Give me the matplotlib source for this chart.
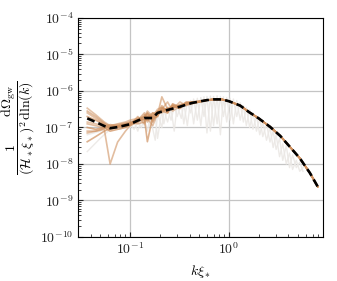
import numpy as np
import matplotlib
matplotlib.use("Agg")
import matplotlib.pyplot as plt
from matplotlib.ticker import FuncFormatter

plt.rcParams["mathtext.fontset"] = "cm"
plt.rcParams["font.family"] = "serif"
plt.rcParams["font.serif"] = ["DejaVu Serif"]

# mean spectrum (log10 values)
k_mean = [0.037, 0.045, 0.055, 0.063, 0.075, 0.09, 0.1, 0.12, 0.14, 0.17, 0.19,
          0.24, 0.32, 0.42, 0.5, 0.6, 0.7, 0.85, 1.0, 1.3, 1.6, 2.0, 2.6, 3.3,
          4.1, 5.2, 6.6, 7.9]
lg_mean = [-6.75, -6.85, -6.96, -7.02, -6.99, -6.94, -6.91, -6.81, -6.74, -6.74, -6.60,
           -6.52, -6.43, -6.33, -6.29, -6.25, -6.23, -6.23, -6.28, -6.40, -6.58, -6.75,
           -6.98, -7.23, -7.52, -7.84, -8.25, -8.62]

# individual runs, low-k part (they join the mean at larger k)
k_run = [0.037, 0.045, 0.055, 0.063, 0.075, 0.09, 0.1, 0.12, 0.14, 0.15, 0.17, 0.19,
         0.21, 0.24, 0.27, 0.32, 0.37, 0.42, 0.5]
lg_runs = [
    [-6.47, -6.65, -6.85, -6.95, -6.90, -6.85, -6.80, -6.75, -6.70, -6.55, -6.70, -6.50, -6.45, -6.55, -6.40, -6.45, -6.35, -6.33, -6.29],
    [-6.55, -6.70, -6.88, -7.00, -6.95, -6.90, -6.85, -6.80, -6.60, -6.85, -6.60, -6.65, -6.16, -6.50, -6.45, -6.40, -6.38, -6.30, -6.28],
    [-6.60, -6.75, -6.90, -6.95, -6.92, -6.88, -6.90, -6.75, -6.80, -6.70, -6.80, -6.55, -6.60, -6.45, -6.50, -6.30, -6.40, -6.35, -6.30],
    [-6.70, -6.80, -6.92, -7.05, -7.00, -6.95, -6.88, -6.85, -6.75, -7.39, -6.70, -6.60, -6.55, -6.60, -6.35, -6.45, -6.30, -6.32, -6.29],
    [-6.85, -6.90, -6.95, -7.00, -6.98, -6.92, -6.95, -6.85, -6.65, -6.75, -6.95, -6.62, -6.50, -6.30, -6.55, -6.42, -6.35, -6.34, -6.30],
    [-7.00, -7.05, -7.00, -7.10, -7.05, -7.00, -6.92, -6.80, -6.78, -6.60, -6.75, -6.70, -6.48, -6.55, -6.40, -6.48, -6.32, -6.30, -6.29],
    [-7.10, -7.10, -7.05, -8.00, -7.40, -7.10, -6.95, -6.82, -6.70, -6.80, -6.65, -6.55, -6.52, -6.50, -6.45, -6.40, -6.36, -6.33, -6.28],
    [-7.15, -7.10, -7.02, -6.98, -6.95, -6.90, -6.85, -6.90, -6.85, -6.72, -6.60, -6.68, -6.45, -6.52, -6.42, -6.45, -6.34, -6.31, -6.30],
    [-7.39, -7.25, -7.10, -7.02, -6.98, -6.93, -6.90, -6.78, -6.72, -6.62, -6.85, -6.58, -6.55, -6.48, -6.46, -6.38, -6.33, -6.32, -6.29],
    [-6.90, -6.95, -7.00, -6.92, -6.96, -6.98, -6.93, -6.70, -6.90, -6.68, -6.72, -6.62, -6.40, -6.60, -6.38, -6.42, -6.36, -6.34, -6.30],
]
run_alpha = [0.55, 0.6, 0.55, 0.7, 0.55, 0.75, 0.6, 0.6, 0.7, 0.6]

# faint noisy runs
k_gray = [0.037, 0.05, 0.063, 0.08, 0.10, 0.11, 0.12, 0.13, 0.14, 0.15, 0.16, 0.18, 0.19,
          0.21, 0.22, 0.24, 0.26, 0.28, 0.30, 0.33, 0.35, 0.38, 0.41, 0.44, 0.48,
          0.52, 0.56, 0.60, 0.65, 0.70, 0.76, 0.82, 0.88, 0.95, 1.03, 1.11, 1.2,
          1.3, 1.4, 1.5, 1.62, 1.75, 1.9, 2.05, 2.2, 2.4, 2.6, 2.8, 3.0, 3.25, 3.5,
          3.8, 4.1, 4.4, 4.8, 5.2, 5.6]
lg_gray1 = [-7.66, -7.30, -7.05, -6.95, -7.00, -6.85, -7.10, -6.80, -6.95, -6.70, -7.00, -6.65, -7.30,
            -6.55, -6.90, -6.45, -6.80, -6.42, -6.70, -6.35, -6.90, -6.30, -6.60, -6.22, -6.80,
            -6.18, -6.70, -6.15, -7.10, -6.15, -6.90, -6.15, -6.70, -6.18, -6.80, -6.22, -6.70,
            -6.32, -6.85, -6.45, -7.00, -6.60, -7.10, -6.75, -7.25, -6.90, -7.40, -7.10, -7.60, -7.30, -7.90,
            -7.50, -8.10, -7.75, -8.10, -7.95, -8.20]
lg_gray2 = [-7.20, -7.10, -6.95, -7.05, -6.90, -7.05, -6.85, -7.00, -6.78, -7.10, -6.72, -7.35, -6.62,
            -7.00, -6.52, -6.85, -6.48, -7.10, -6.40, -6.75, -6.35, -6.95, -6.26, -6.90, -6.20,
            -6.95, -6.16, -7.15, -6.14, -6.95, -6.13, -7.20, -6.16, -6.85, -6.20, -6.90, -6.26,
            -6.80, -6.40, -6.95, -6.52, -7.05, -6.68, -7.20, -6.85, -7.35, -7.00, -7.55, -7.20, -7.80, -7.45,
            -8.00, -7.70, -8.15, -7.90, -8.20, -8.10]

fig = plt.figure(figsize=(3.37, 2.81), dpi=100)
ax = fig.add_axes([0.2315, 0.1566, 0.7265, 0.7794])

k_mean = np.array(k_mean)
lg_mean = np.array(lg_mean)

for lg in (lg_gray1, lg_gray2):
    ax.plot(k_gray, 10**np.array(lg), color="#ebe8e5", lw=1.0, alpha=0.9, zorder=2)

tail = k_mean > 0.5
for lg, a in zip(lg_runs, run_alpha):
    kk = np.concatenate([k_run, k_mean[tail]])
    yy = np.concatenate([lg, lg_mean[tail]])
    ax.plot(kk, 10**yy, color="#cf9160", lw=1.2, alpha=a, zorder=3)

ax.plot(k_mean, 10**lg_mean, color="black", lw=1.9, ls=(0, (3.0, 1.6)), zorder=5)

ax.set_xscale("log")
ax.set_yscale("log")
ax.set_xlim(0.02985, 8.9)
ax.set_ylim(1e-10, 1e-4)
ax.grid(True, which="major", color="#c4c4c4", lw=0.9)
ax.tick_params(which="both", direction="in", labelsize=10, colors="#222222")
ax.set_yticks([1e-10, 1e-9, 1e-8, 1e-7, 1e-6, 1e-5, 1e-4])
log_fmt = FuncFormatter(lambda v, p: r"$10^{%d}$" % round(np.log10(v)))
ax.xaxis.set_major_formatter(log_fmt)
ax.yaxis.set_major_formatter(log_fmt)
ax.set_xlabel(r"$k\xi_*$", fontsize=10)
ax.set_ylabel(r"$\dfrac{1}{(\mathcal{H}_*\xi_*)^2}\dfrac{{\rm d}\Omega_{\rm gw}}{{\rm d}\ln(k)}$",
              fontsize=10, labelpad=2)

fig.savefig("out.png", dpi=100)
